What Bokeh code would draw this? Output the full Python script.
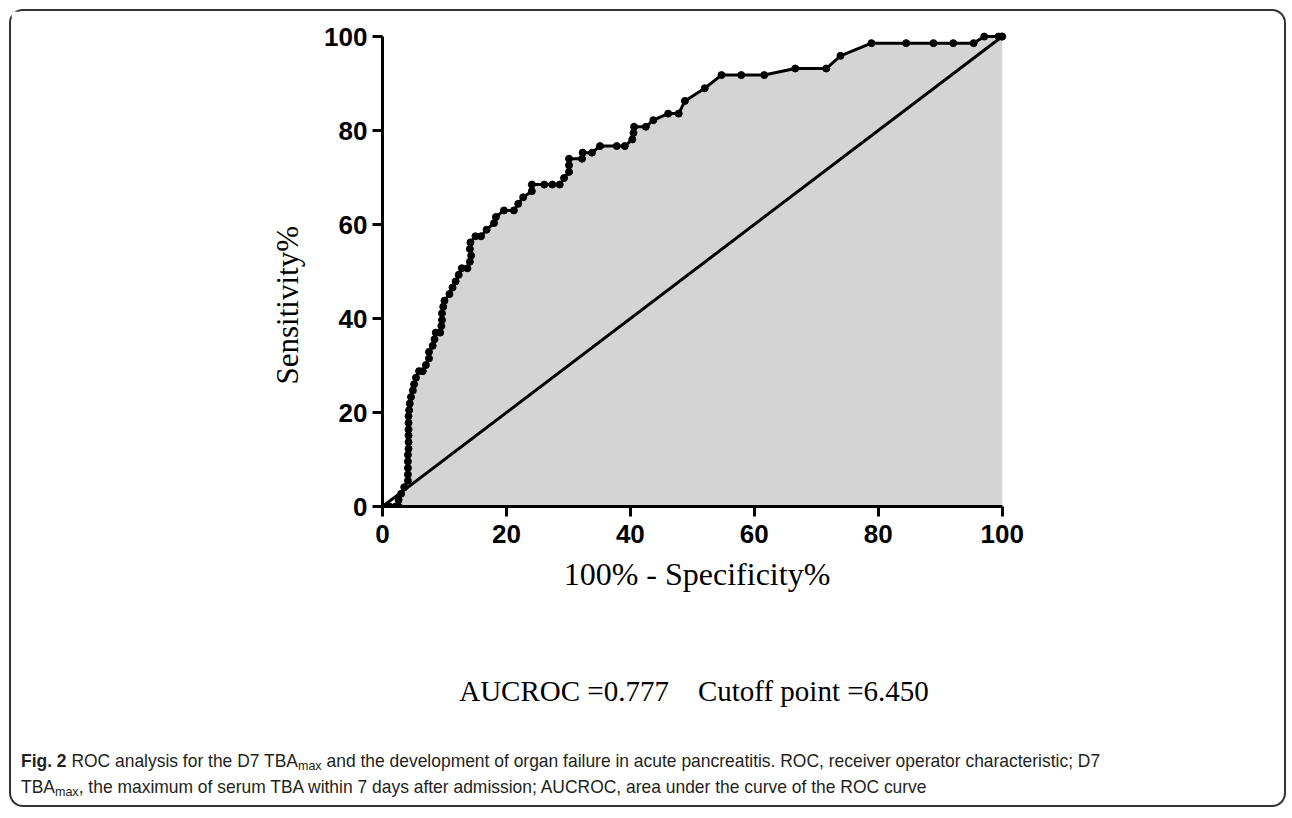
from bokeh.plotting import figure
from bokeh.models import Range1d, Div, FixedTicker, Title
from bokeh.layouts import column
from bokeh.embed import file_html
from bokeh.resources import INLINE

# ROC curve points (100% - Specificity%, Sensitivity%)
fpr = [0, 1.1, 2.1, 2.6, 2.6, 3.0, 3.5,
       4.1, 4.1, 4.1, 4.1, 4.1, 4.2, 4.2, 4.2, 4.2, 4.2, 4.2,
       4.3, 4.4, 4.6, 4.9, 5.1, 5.4, 5.9, 6.5, 7.0, 7.5, 7.5, 8.1, 8.4, 8.6,
       9.3, 9.5, 9.6, 9.6, 9.8, 10.0, 10.8, 11.3, 11.8, 12.3, 12.8, 13.7,
       14.1, 14.3, 14.1, 14.2, 15.0, 15.9, 16.8, 18.0, 18.3, 19.6, 21.2,
       21.9, 22.7, 24.1, 24.1, 26.1, 27.4, 28.6, 29.3, 30.1, 30.1, 30.1,
       32.2, 32.3, 33.8, 35.1, 37.8, 39.1, 40.3, 40.5, 40.6, 42.5, 43.7,
       46.1, 47.8, 48.8, 52.0, 54.7, 57.9, 61.6, 66.6, 71.6, 73.9, 78.9,
       84.5, 88.9, 92.1, 95.4, 97.1, 99.4, 99.9, 100]
tpr = [0, 0, 0, 0, 1.4, 2.7, 4.1,
       5.5, 6.8, 8.2, 9.6, 11.0, 12.3, 13.7, 15.1, 16.4, 17.8, 19.2,
       20.5, 21.9, 23.3, 24.7, 26.0, 27.4, 28.8, 28.8, 30.1, 31.5, 32.9, 34.2, 35.6, 37.0,
       37.0, 38.4, 39.7, 41.1, 42.5, 43.8, 45.2, 46.6, 47.9, 49.3, 50.7, 50.7,
       52.1, 53.4, 54.8, 56.2, 57.5, 57.5, 58.9, 60.3, 61.6, 63.0, 63.0,
       64.4, 65.8, 67.1, 68.5, 68.5, 68.5, 68.5, 69.9, 71.2, 72.6, 74.0,
       74.0, 75.3, 75.3, 76.7, 76.7, 76.7, 78.1, 79.5, 80.8, 80.8, 82.2,
       83.6, 83.6, 86.3, 89.0, 91.8, 91.8, 91.8, 93.2, 93.2, 95.9, 98.6,
       98.6, 98.6, 98.6, 98.6, 100, 100, 100, 100]

diag_x = [0, 100]
diag_y = [0, 100]
tick_values = [0, 20, 40, 60, 80, 100]

x_title = "100% - Specificity%"
y_title = "Sensitivity%"
auc_text = "AUCROC =0.777"
cut_text = "Cutoff point =6.450"
caption_bold = "Fig. 2"
SUB = '<sub style="font-size:72%;line-height:0;vertical-align:-0.25em;">max</sub>'
caption_line1 = f" ROC analysis for the D7 TBA{SUB} and the development of organ failure in acute pancreatitis. ROC, receiver operator characteristic; D7"
caption_line2 = f"TBA{SUB}, the maximum of serum TBA within 7 days after admission; AUCROC, area under the curve of the ROC curve"

W = 1263
FL = 371           # frame left
FW = 629           # frame width
FT = 18            # frame top
FH = 477           # frame height
FB = 110           # below frame
p = figure(width=W, height=FT + FH + FB, x_range=Range1d(0, 101.5), y_range=Range1d(0, 101.5),
           output_backend="svg", toolbar_location=None,
           min_border_left=FL, min_border_right=W - FL - FW,
           min_border_top=FT, min_border_bottom=FB)
p.outline_line_color = None
p.xgrid.visible = False
p.ygrid.visible = False
p.background_fill_color = "white"
p.border_fill_color = "white"

# shaded area under ROC curve
p.patch(fpr + [100], tpr + [0], fill_color="#d4d4d4", line_color=None)
p.line(diag_x, diag_y, line_color="black", line_width=3)
p.line(fpr, tpr, line_color="black", line_width=3)
p.scatter(fpr, tpr, size=7, fill_color="black", line_color="black")

for ax in (p.xaxis[0], p.yaxis[0]):
    ax.bounds = (0, 100)
    ax.ticker = FixedTicker(ticks=tick_values)
    ax.axis_line_width = 3
    ax.axis_line_color = "black"
    ax.major_tick_line_width = 3
    ax.major_tick_line_color = "black"
    ax.major_tick_in = 0
    ax.major_tick_out = 10
    ax.minor_tick_line_color = None
    ax.major_label_text_font = "Liberation Sans"
    ax.major_label_text_font_style = "bold"
    ax.major_label_text_font_size = "26px"
    ax.major_label_text_color = "black"
    ax.axis_label_text_font = "Liberation Serif"
    ax.axis_label_text_font_style = "normal"
    ax.axis_label_text_color = "black"

p.xaxis.axis_label = x_title
p.xaxis.axis_label_text_font_size = "32px"
p.xaxis.major_label_standoff = 8
p.yaxis.major_label_standoff = 5
p.xaxis.axis_label_standoff = 10

# y-axis title as a side title, placed below the axis centre as in the original
p.add_layout(Title(text=y_title, align="left", offset=122, standoff=33,
                   text_font="Liberation Serif", text_font_size="31px",
                   text_font_style="normal", text_color="black"), "left")

DH = 179
html = f"""
<div style="position:relative;width:{W}px;height:{DH}px;color:#231f20;">
  <div style="position:absolute;left:0;top:52px;width:1356px;text-align:center;font-family:'Liberation Serif',serif;font-size:29px;color:#000;white-space:pre;line-height:36px;">{auc_text}    {cut_text}</div>
  <div style="position:absolute;left:5px;top:127px;font-family:'Liberation Sans',sans-serif;font-size:19px;white-space:nowrap;line-height:26px;transform:scaleX(0.918);transform-origin:0 0;">
    <b>{caption_bold}</b>{caption_line1}<br>{caption_line2}
  </div>
</div>
"""
cap = Div(text=html, width=W, height=DH)

layout = column(p, cap, styles={"border": "2px solid #333", "border-radius": "14px",
                                "margin-top": "9px", "margin-left": "9px"})

open("out.html", "w").write(file_html(layout, INLINE))
